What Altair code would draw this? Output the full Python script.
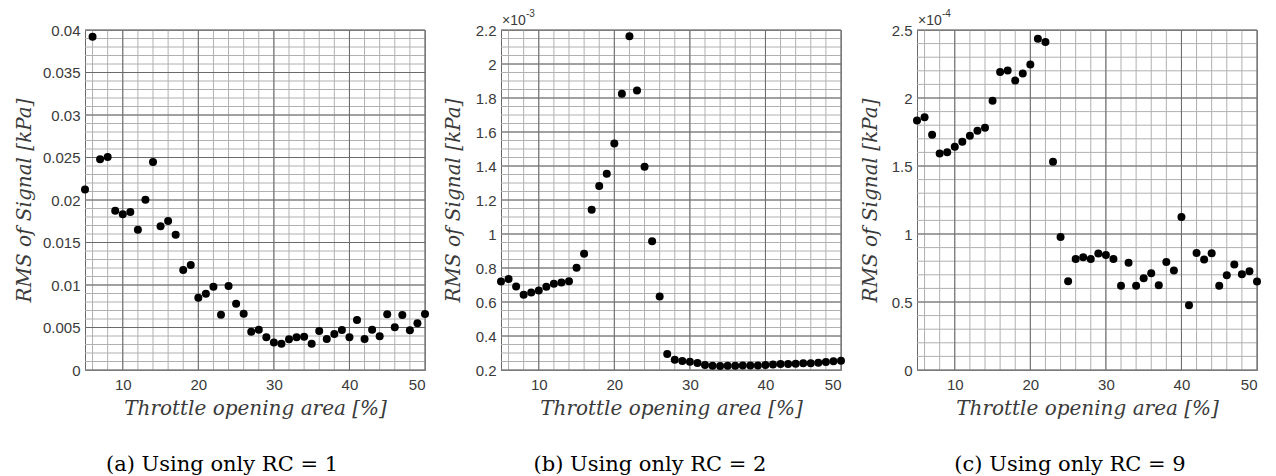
import altair as alt
import pandas as pd

# ---------------- data ----------------
x_vals = list(range(5, 51))

# (a) RC = 1, kPa
rms_a = [0.02125, 0.0392, 0.02478, 0.02506, 0.01875, 0.01831, 0.01859, 0.01651,
         0.02004, 0.02447, 0.0169, 0.01753, 0.01592, 0.01176, 0.01235, 0.00851,
         0.00898, 0.0098, 0.00651, 0.00988, 0.0078, 0.00663, 0.00451, 0.00475,
         0.00384, 0.00325, 0.0031, 0.00361, 0.00384, 0.00392, 0.0031, 0.00459,
         0.00365, 0.00424, 0.00471, 0.00384, 0.00588, 0.00365, 0.00475, 0.00396,
         0.00655, 0.00502, 0.00647, 0.00467, 0.00549, 0.0066]

# (b) RC = 2, x 10^-3 kPa
rms_b = [0.720, 0.736, 0.691, 0.642, 0.656, 0.667, 0.689, 0.708, 0.714, 0.722,
         0.802, 0.884, 1.142, 1.283, 1.355, 1.533, 1.825, 2.163, 1.844, 1.396,
         0.957, 0.632, 0.294, 0.261, 0.253, 0.249, 0.241, 0.229, 0.225, 0.223,
         0.225, 0.225, 0.227, 0.227, 0.227, 0.229, 0.233, 0.235, 0.235, 0.237,
         0.239, 0.239, 0.243, 0.247, 0.251, 0.255]

# (c) RC = 9, x 10^-4 kPa
rms_c = [1.835, 1.859, 1.729, 1.592, 1.602, 1.641, 1.678, 1.722, 1.759, 1.781,
         1.979, 2.192, 2.202, 2.128, 2.180, 2.246, 2.436, 2.412, 1.531, 0.978,
         0.653, 0.817, 0.829, 0.817, 0.856, 0.846, 0.817, 0.619, 0.788, 0.619,
         0.675, 0.712, 0.624, 0.795, 0.731, 1.125, 0.477, 0.861, 0.812, 0.859,
         0.619, 0.697, 0.775, 0.704, 0.727, 0.651]

x_major = [10, 20, 30, 40, 50]
x_minor = list(range(6, 51, 2))

y_a_major = [0, 0.005, 0.01, 0.015, 0.02, 0.025, 0.03, 0.035, 0.04]
y_a_minor = [round(i * 0.001, 3) for i in range(0, 41)]
y_b_major = [round(0.2 + i * 0.2, 1) for i in range(0, 11)]
y_b_minor = [round(0.2 + i * 0.05, 2) for i in range(0, 41)]
y_c_major = [0, 0.5, 1, 1.5, 2, 2.5]
y_c_minor = [round(i * 0.1, 1) for i in range(0, 26)]

captions = ["(a) Using only RC = 1", "(b) Using only RC = 2", "(c) Using only RC = 9"]
exponents = [None, "-3", "-4"]

MAJOR = "#6a6a6a"
MINOR = "#b0b0b0"
TXT = "#3a3a3a"


def panel(values, y_domain, y_major, y_minor, caption, exponent, extent, cap_dx):
    xs = alt.Scale(domain=[5, 50], nice=False, zero=False)
    ys = alt.Scale(domain=y_domain, nice=False, zero=False)
    df = pd.DataFrame({"x": x_vals, "y": values})

    x_axis = alt.Axis(values=x_major, title="Throttle opening area [%]", format="~r",
                      labelOverlap=False)
    y_axis = alt.Axis(values=y_major, title="RMS of Signal [kPa]", format="~r",
                      labelOverlap=False, minExtent=extent, maxExtent=extent)

    gx_min = alt.Chart(pd.DataFrame({"v": x_minor})).mark_rule(
        color=MINOR, strokeWidth=1).encode(x=alt.X("v:Q", scale=xs, axis=x_axis))
    gy_min = alt.Chart(pd.DataFrame({"v": y_minor})).mark_rule(
        color=MINOR, strokeWidth=1).encode(y=alt.Y("v:Q", scale=ys, axis=y_axis))
    gx_maj = alt.Chart(pd.DataFrame({"v": x_major})).mark_rule(
        color=MAJOR, strokeWidth=1).encode(x=alt.X("v:Q", scale=xs, axis=x_axis))
    gy_maj = alt.Chart(pd.DataFrame({"v": y_major})).mark_rule(
        color=MAJOR, strokeWidth=1).encode(y=alt.Y("v:Q", scale=ys, axis=y_axis))

    pts = alt.Chart(df).mark_circle(size=64, color="black", opacity=1).encode(
        x=alt.X("x:Q", scale=xs, axis=x_axis),
        y=alt.Y("y:Q", scale=ys, axis=y_axis),
    )
    layers = [gx_min, gy_min, gx_maj, gy_maj, pts]
    if exponent:
        base = alt.Chart(pd.DataFrame({"a": [0]}))
        t1 = base.mark_text(align="left", baseline="alphabetic", font="Liberation Sans",
                            fontSize=14, color=TXT, dx=1, dy=-5).encode(
            x=alt.datum(5, axis=x_axis, scale=xs),
            y=alt.datum(y_domain[1], axis=y_axis, scale=ys), text=alt.value("×10"))
        t2 = base.mark_text(align="left", baseline="alphabetic", font="Liberation Sans",
                            fontSize=10, color=TXT, dx=25, dy=-13).encode(
            x=alt.datum(5, axis=x_axis, scale=xs),
            y=alt.datum(y_domain[1], axis=y_axis, scale=ys), text=alt.value(exponent))
        layers += [t1, t2]
    return alt.layer(*layers).properties(
        width=340, height=340,
        title=alt.TitleParams(caption, orient="bottom", anchor="middle",
                              font="DejaVu Serif", fontSize=21, fontWeight="normal",
                              color="black", offset=36, dx=cap_dx),
    )


pa = panel(rms_a, [0, 0.04], y_a_major, y_a_minor, captions[0], exponents[0], 46, -33)
pb = panel(rms_b, [0.2, 2.2], y_b_major, y_b_minor, captions[1], exponents[1], 33, -21)
pc = panel(rms_c, [0, 2.5], y_c_major, y_c_minor, captions[2], exponents[2], 32, -17)

chart = alt.hconcat(pa, pb, pc, spacing=76, bounds="flush").properties(
    padding={"left": 5, "top": 0, "right": 5, "bottom": 5}
).configure_view(
    stroke="#6a6a6a", strokeWidth=1
).configure_axis(
    grid=False, ticks=False, domain=False,
    labelFont="Liberation Sans", labelFontSize=15, labelColor=TXT, labelPadding=5,
    titleFont="DejaVu Serif", titleFontStyle="italic", titleFontWeight="normal",
    titleFontSize=20, titleColor=TXT,
).configure_axisY(
    titlePadding=5,
).configure_axisX(
    labelPadding=7, titlePadding=6,
)

chart.save("out.html", embed_options={"renderer": "svg", "actions": False})
